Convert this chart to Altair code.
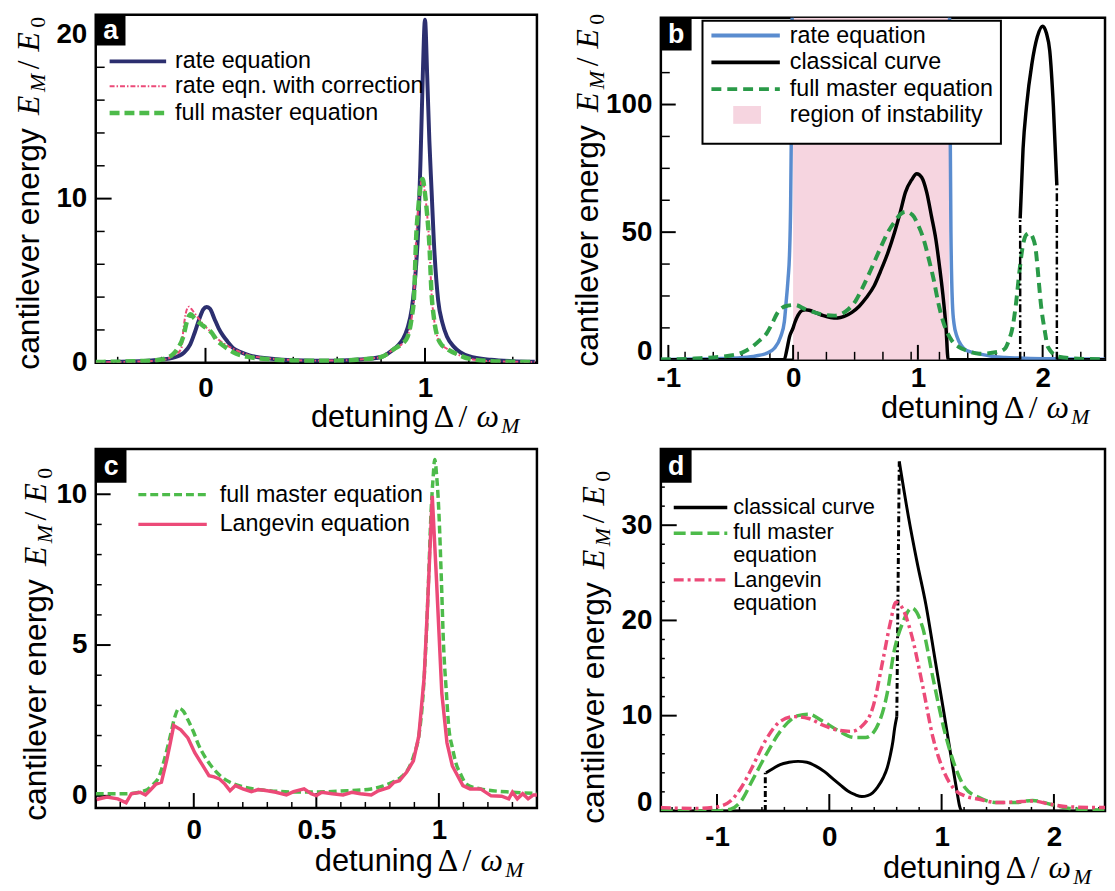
import altair as alt
import pandas as pd

# ---------------- panel a ----------------
a_rate_x = [-0.5, -0.3, -0.2, -0.15, -0.1, -0.07, -0.05, -0.03, -0.01, 0.005, 0.02, 0.04, 0.06, 0.08, 0.1,
            0.13, 0.16, 0.2, 0.3, 0.4, 0.5, 0.6, 0.7, 0.8, 0.85, 0.88, 0.9, 0.92, 0.94, 0.96, 0.97, 0.98,
            0.99, 1.0, 1.01, 1.02, 1.03, 1.04, 1.06, 1.08, 1.1, 1.13, 1.16, 1.2, 1.3, 1.4, 1.5]
a_rate_y = [0.05, 0.1, 0.2, 0.3, 0.6, 1.1, 1.8, 2.6, 3.25, 3.4, 3.3, 2.7, 2.1, 1.65, 1.3,
            0.85, 0.65, 0.45, 0.25, 0.15, 0.12, 0.13, 0.2, 0.35, 0.75, 1.1, 1.45, 2.1, 3.3, 6.0, 8.3, 12.5,
            17.5, 20.9, 17.5, 13.5, 10.5, 7.5, 3.8, 2.4, 1.6, 1.0, 0.65, 0.4, 0.18, 0.1, 0.07]
a_corr_x = [-0.5, -0.3, -0.2, -0.15, -0.11, -0.1, -0.09, -0.08, -0.075, -0.06, -0.04, -0.02, 0.0, 0.03, 0.06,
            0.1, 0.15, 0.2, 0.3, 0.4, 0.5, 0.6, 0.7, 0.8, 0.86, 0.9, 0.92, 0.94, 0.95, 0.96, 0.97, 0.98,
            0.989, 1.0, 1.01, 1.02, 1.03, 1.04, 1.055, 1.07, 1.1, 1.15, 1.2, 1.3, 1.4, 1.5]
a_corr_y = [0.03, 0.08, 0.15, 0.4, 0.85, 2.1, 3.0, 3.38, 3.42, 3.2, 2.85, 2.5, 2.2, 1.8, 1.4,
            1.05, 0.7, 0.45, 0.25, 0.16, 0.13, 0.14, 0.2, 0.35, 0.85, 1.2, 1.55, 2.8, 4.0, 7.7, 9.5, 10.8,
            11.2, 10.3, 9.0, 7.2, 4.2, 2.8, 1.65, 1.2, 0.85, 0.5, 0.25, 0.1, 0.06, 0.05]
a_master_x = [-0.5, -0.3, -0.2, -0.18, -0.15, -0.13, -0.1, -0.085, -0.068, -0.05, -0.02, 0.0, 0.03, 0.05, 0.08,
              0.1, 0.14, 0.2, 0.3, 0.4, 0.5, 0.6, 0.7, 0.8, 0.86, 0.9, 0.92, 0.94, 0.95, 0.96, 0.97, 0.98,
              0.989, 1.0, 1.01, 1.02, 1.03, 1.04, 1.055, 1.07, 1.1, 1.15, 1.2, 1.3, 1.4, 1.5]
a_master_y = [0.05, 0.1, 0.2, 0.28, 0.5, 0.8, 1.65, 2.5, 2.96, 2.7, 2.35, 2.15, 1.8, 1.4, 1.05,
              0.85, 0.55, 0.35, 0.2, 0.14, 0.12, 0.13, 0.2, 0.35, 0.85, 1.2, 1.55, 2.8, 4.0, 7.7, 9.5, 10.8,
              11.2, 10.3, 9.0, 7.2, 4.2, 2.8, 1.65, 1.2, 0.85, 0.5, 0.25, 0.1, 0.06, 0.05]
a_xlabels = [0, 1]
a_ylabels = [0, 10, 20]
a_xminor = [-0.4, -0.2, 0.2, 0.4, 0.6, 0.8, 1.2, 1.4]
a_yminor = [2, 4, 6, 8, 12, 14, 16, 18]
a_legend = ["rate equation", "rate eqn. with correction", "full master equation"]

# ---------------- panel b ----------------
b_region_start = [0.0]
b_region_end = [1.25]
b_rate_l_x = [-1.06, -0.9, -0.79, -0.6, -0.5, -0.4, -0.3, -0.214, -0.15, -0.1, -0.07, -0.057, -0.04,
              -0.029, -0.02, -0.012, -0.006]
b_rate_l_y = [0.15, 0.2, 0.3, 0.45, 0.6, 0.9, 1.5, 2.5, 4.5, 9, 15, 22, 32, 41, 60, 100, 150]
b_rate_r_x = [1.252, 1.258, 1.265, 1.277, 1.29, 1.314, 1.35, 1.386, 1.45, 1.5, 1.6, 1.7, 1.8, 1.9, 2.0,
              2.1, 2.3, 2.5]
b_rate_r_y = [150, 100, 50, 22, 14, 9, 5.5, 3.7, 2.8, 2.2, 1.3, 0.9, 0.7, 0.55, 0.45, 0.4, 0.3, 0.25]
b_class_x = [-1.06, -0.071, -0.05, -0.029, 0.0, 0.014, 0.04, 0.071, 0.1, 0.129, 0.18, 0.243, 0.3, 0.357,
             0.41, 0.471, 0.53, 0.586, 0.65, 0.7, 0.76, 0.814, 0.86, 0.9, 0.95, 0.991, 1.03, 1.071, 1.11,
             1.143, 1.175, 1.2, 1.225, 1.243, 1.82]
b_class_y = [0, 0, 4, 9, 12.5, 14.6, 17.5, 19.3, 19.6, 19.4, 18.5, 17.3, 16.6, 16.4,
             17.0, 18.6, 21, 24.3, 29, 34.6, 42, 50.1, 58, 65.6, 70.5, 72.9, 71.5, 65.6, 56,
             47.5, 36, 25.7, 13, 0, 0]
b_class2_x = [1.82, 1.843, 1.871, 1.914, 1.957, 2.0, 2.03, 2.057, 2.086, 2.114]
b_class2_y = [55.4, 82.6, 99.4, 116, 126.5, 130.7, 128, 121, 99.4, 68.3]
b_class3_x = [2.114, 2.5]
b_class3_y = [0, 0]
b_unst_x = [1.82, 1.82, 2.114, 2.114]
b_unst_y = [0, 55.4, 0, 68.3]
b_unst_seg = [1, 1, 2, 2]
b_master_x = [-1.06, -0.79, -0.5, -0.4, -0.33, -0.27, -0.214, -0.17, -0.13, -0.09, -0.043, 0.014, 0.1,
              0.214, 0.33, 0.443, 0.5, 0.557, 0.63, 0.7, 0.76, 0.814, 0.86, 0.9, 0.957, 1.0, 1.043, 1.09,
              1.129, 1.165, 1.2, 1.271, 1.33, 1.386, 1.5, 1.643, 1.7, 1.729, 1.76, 1.786, 1.815, 1.843,
              1.87, 1.894, 1.92, 1.943, 1.965, 1.986, 2.015, 2.043, 2.129, 2.357, 2.5]
b_master_y = [0.1, 0.5, 1.7, 3, 5, 7.5, 10.2, 14, 18, 20.3, 21.2, 21.5, 19.8,
              18, 17.3, 19.8, 23, 28.3, 36, 43.8, 50, 54.1, 57, 58, 56.7, 53, 47.7, 39,
              30.9, 22, 15.4, 7.6, 5, 3.7, 2.4, 3.1, 4.5, 7.6, 13, 21.8, 35, 45.1,
              49, 49.6, 48, 43.8, 33, 21.8, 12, 5, 1.2, 0.3, 0.2]
b_xlabels = [-1, 0, 1, 2]
b_ylabels = [0, 50, 100]
b_xminor = [-0.866, -0.64, -0.41, -0.186, 0.04, 0.267, 0.493, 0.72, 0.946, 1.173, 1.4, 1.626, 1.853,
            2.08, 2.306]
b_yminor = [12.5, 25, 37.5, 62.5, 75, 87.5, 112.5, 125]
b_legend = ["rate equation", "classical curve", "full master equation", "region of instability"]

# ---------------- panel c ----------------
c_master_x = [-0.4, -0.28, -0.2, -0.17, -0.14, -0.12, -0.096, -0.078, -0.06, -0.042, -0.024, 0.0, 0.019,
              0.045, 0.076, 0.11, 0.148, 0.2, 0.3, 0.4, 0.5, 0.6, 0.724, 0.77, 0.81, 0.85, 0.882, 0.9,
              0.918, 0.935, 0.947, 0.958, 0.968, 0.976, 0.983, 0.991, 1.0, 1.01, 1.019, 1.03, 1.04,
              1.055, 1.069, 1.09, 1.112, 1.17, 1.3, 1.4]
c_master_y = [0.07, 0.07, 0.17, 0.35, 0.67, 1.2, 1.98, 2.6, 2.9, 2.8, 2.52, 2.1, 1.7,
              1.3, 0.94, 0.65, 0.45, 0.3, 0.18, 0.13, 0.13, 0.16, 0.23, 0.32, 0.45, 0.65, 1.0, 1.4,
              1.98, 3.3, 5.0, 7.2, 9.4, 10.5, 11.15, 10.6, 9.4, 7.2, 5.0, 3.5, 2.3,
              1.6, 1.1, 0.7, 0.39, 0.23, 0.12, 0.08]
c_lang_x = [-0.396, -0.355, -0.31, -0.276, -0.255, -0.219, -0.197, -0.18, -0.154, -0.132, -0.11, -0.096,
            -0.082, -0.053, -0.024, 0.004, 0.033, 0.062, 0.083, 0.105, 0.127, 0.148, 0.17, 0.2, 0.235,
            0.263, 0.3, 0.335, 0.378, 0.407, 0.45, 0.479, 0.5, 0.522, 0.565, 0.609, 0.645, 0.68, 0.724,
            0.753, 0.796, 0.817, 0.839, 0.868, 0.896, 0.918, 0.94, 0.954, 0.973, 0.99, 1.012, 1.033,
            1.055, 1.098, 1.127, 1.17, 1.213, 1.256, 1.285, 1.3, 1.32, 1.342, 1.364, 1.386, 1.4]
c_lang_y = [-0.12, -0.04, -0.1, -0.23, 0.07, 0.12, 0.03, 0.17, 0.39, 0.45, 1.2, 1.75,
            2.33, 2.19, 1.92, 1.43, 1.05, 0.67, 0.63, 0.56, 0.39, 0.17, 0.34, 0.23, 0.14,
            0.21, 0.17, 0.12, 0.03, 0.14, 0.23, 0.07, 0.01, 0.12, 0.07, 0.03, 0.12, 0.07, 0.03,
            0.17, 0.28, 0.45, 0.5, 0.78, 1.16, 1.98, 3.94, 6.34, 9.95, 7.2, 3.4, 1.76,
            0.99, 0.34, 0.23, 0.23, 0.0, -0.01, -0.1, 0.12, -0.1, 0.07, -0.1, 0.03, 0.03]
c_xlabels = [0, 0.5, 1]
c_ylabels = [0, 5, 10]
c_xminor = [-0.3, -0.2, -0.1, 0.1, 0.2, 0.3, 0.4, 0.6, 0.7, 0.8, 0.9, 1.1, 1.2, 1.3]
c_yminor = [1, 2, 3, 4, 6, 7, 8, 9, 11]
c_legend = ["full master equation", "Langevin equation"]

# ---------------- panel d ----------------
d_class0_x = [-1.5, -0.57]
d_class0_y = [0, 0]
d_jump_x = [-0.57, -0.57, 0.601, 0.623]
d_jump_y = [0, 4.0, 9.9, 36.7]
d_jump_seg = [1, 1, 2, 2]
d_class1_x = [-0.563, -0.5, -0.437, -0.36, -0.278, -0.2, -0.12, -0.04, 0.038, 0.1, 0.165, 0.23, 0.29,
              0.34, 0.386, 0.43, 0.48, 0.515, 0.544, 0.565, 0.582, 0.601]
d_class1_y = [4.0, 4.45, 4.87, 5.1, 5.2, 5.1, 4.7, 4.1, 3.3, 2.7, 2.09, 1.7, 1.5,
              1.6, 1.9, 2.5, 3.48, 4.5, 5.9, 7.2, 8.7, 9.9]
d_class2_x = [0.623, 0.703, 0.78, 0.861, 0.94, 1.019, 1.08, 1.114, 1.14, 1.16, 1.18, 2.5]
d_class2_y = [36.7, 31.0, 26.2, 21.6, 16.0, 10.4, 6.0, 3.6, 1.8, 0.5, 0, 0]
d_master_x = [-1.5, -1.0, -0.88, -0.785, -0.69, -0.563, -0.437, -0.278, -0.184, -0.057, 0.07, 0.228,
              0.323, 0.418, 0.513, 0.576, 0.655, 0.734, 0.83, 0.924, 1.019, 1.114, 1.209, 1.335, 1.494,
              1.652, 1.81, 1.968, 2.127, 2.3, 2.5]
d_master_y = [0.0, 0.0, 0.17, 1.04, 3.1, 5.9, 8.35, 10.0, 10.15, 9.4, 8.5, 7.7,
              7.7, 8.7, 12.2, 16.7, 19.8, 21.3, 19.3, 13.9, 8.7, 4.87, 2.43, 1.39, 0.87,
              0.87, 1.1, 0.7, 0.28, 0.15, 0.1]
d_lang_x = [-1.5, -1.2, -1.0, -0.88, -0.785, -0.69, -0.563, -0.437, -0.31, -0.184, -0.057, 0.07, 0.196,
            0.29, 0.386, 0.48, 0.544, 0.592, 0.655, 0.734, 0.83, 0.924, 1.019, 1.114, 1.209, 1.335,
            1.494, 1.652, 1.81, 1.968, 2.127, 2.44, 2.5]
d_lang_y = [0.35, 0.25, 0.42, 1.04, 2.43, 4.5, 7.5, 9.4, 9.9, 9.7, 9.0, 8.5, 8.35,
            8.9, 10.8, 16.0, 19.8, 21.9, 21.2, 18.4, 13.2, 7.65, 4.17, 2.26, 1.57, 1.22,
            0.87, 0.94, 1.04, 0.7, 0.42, 0.35, 0.35]
d_xlabels = [-1, 0, 1, 2]
d_ylabels = [0, 10, 20, 30]
d_xminor = [-1.4, -1.2, -0.8, -0.6, -0.4, -0.2, 0.2, 0.4, 0.6, 0.8, 1.2, 1.4, 1.6, 1.8, 2.2, 2.4]
d_yminor = [2, 4, 6, 8, 12, 14, 16, 18, 22, 24, 26, 28, 32, 34, 36]
d_legend = ["classical curve", "full master", "equation", "Langevin", "equation"]

# ---------------- styling / helpers ----------------
SANS = "Liberation Sans"
SERIF = "Liberation Serif"
ONE = alt.Data(values=[{}])
NAVY = "#2c2f6f"
PINK = "#ec4a78"
GREEN = "#4dbb4a"
DGREEN = "#2a9a48"
BLUE = "#5a8ccf"
REGION = "#f6d5e0"


def pts(xs, ys, seg=None):
    d = {"x": xs, "y": ys}
    if seg is not None:
        d["seg"] = seg
    return pd.DataFrame(d)


def make_axis(values, pad, flush=False):
    kw = dict(values=values, labelExpr="'' + datum.value", ticks=False, tickSize=0, domain=False,
              grid=False, labelPadding=pad, labelFont=SANS, labelFontSize=28, labelFontWeight="bold",
              labelColor="black", labelOverlap=False, labelFlush=flush, title=None)
    if flush:
        kw["labelFlushOffset"] = 6
    return alt.Axis(**kw)


class Panel:
    def __init__(self, xdom, ydom, xlab, ylab, xpad, ypad, w, h, yflush=False):
        self.X = alt.X("x:Q", scale=alt.Scale(domain=xdom, nice=False, zero=False),
                       axis=make_axis(xlab, xpad), title=None)
        self.Y = alt.Y("y:Q", scale=alt.Scale(domain=ydom, nice=False, zero=False),
                       axis=make_axis(ylab, ypad, yflush), title=None)
        self.w, self.h = w, h
        self.layers = []

    def line(self, xs, ys, color, width, dash=None, interp="monotone", seg=None):
        kw = dict(color=color, strokeWidth=width, clip=True, interpolate=interp)
        if dash:
            kw["strokeDash"] = dash
        ch = alt.Chart(pts(xs, ys, seg)).mark_line(**kw)
        if seg is not None:
            ch = ch.encode(x=self.X, y=self.Y, detail="seg:N")
        else:
            ch = ch.encode(x=self.X, y=self.Y)
        self.layers.append(ch)

    def region(self, starts, ends, color):
        d = pd.DataFrame({"x": starts, "x2": ends})
        self.layers.append(alt.Chart(d).mark_rect(color=color, clip=True).encode(
            x=self.X, x2="x2:Q", y=alt.value(0), y2=alt.value(self.h)))

    def xticks(self, vals, length, width):
        self.layers.append(alt.Chart(pd.DataFrame({"x": vals})).mark_rule(
            color="black", strokeWidth=width).encode(x=self.X, y=alt.value(self.h),
                                                     y2=alt.value(self.h - length)))

    def yticks(self, vals, length, width):
        self.layers.append(alt.Chart(pd.DataFrame({"y": vals})).mark_rule(
            color="black", strokeWidth=width).encode(y=self.Y, x=alt.value(0), x2=alt.value(length)))

    def text(self, s, x, y, size, font=SANS, style="normal", weight="normal", color="black",
             angle=0, align="left", baseline="alphabetic"):
        self.layers.append(alt.Chart(ONE).mark_text(
            text=s, font=font, fontSize=size, fontStyle=style, fontWeight=weight, color=color,
            angle=angle, align=align, baseline=baseline).encode(x=alt.value(x), y=alt.value(y)))

    def seg(self, x1, x2, y, color, width, dash=None):
        kw = dict(color=color, strokeWidth=width)
        if dash:
            kw["strokeDash"] = dash
        self.layers.append(alt.Chart(ONE).mark_rule(**kw).encode(
            x=alt.value(x1), x2=alt.value(x2), y=alt.value(y)))

    def box(self, x1, x2, y1, y2, fill, stroke=None, sw=0):
        kw = dict(fill=fill, strokeWidth=sw)
        if stroke:
            kw["stroke"] = stroke
        self.layers.append(alt.Chart(ONE).mark_rect(**kw).encode(
            x=alt.value(x1), x2=alt.value(x2), y=alt.value(y1), y2=alt.value(y2)))

    def label(self, letter, w, h):
        self.box(0, w, 0, h, "black")
        self.text(letter, w / 2, h / 2 + 1, 27, weight="bold", color="white", align="center",
                  baseline="middle")

    def ytitle(self, bx, y0):
        self.text("cantilever energy", bx, y0, 32, angle=270)
        self.text("E", bx, y0 - 257, 32, SERIF, "italic", angle=270)
        self.text("M", bx + 6, y0 - 280, 22, SERIF, "italic", angle=270)
        self.text("/", bx, y0 - 303, 32, SERIF, angle=270)
        self.text("E", bx, y0 - 321, 32, SERIF, "italic", angle=270)
        self.text("0", bx + 6, y0 - 345, 22, SERIF, angle=270)

    def xtitle(self, x0, by):
        self.text("detuning", x0, by, 31)
        self.text("Δ", x0 + 124, by, 32, SERIF)
        self.text("/", x0 + 149, by, 32, SERIF)
        self.text("ω", x0 + 167, by, 32, SERIF, "italic")
        self.text("M", x0 + 192, by + 6, 22, SERIF, "italic")

    def chart(self):
        return alt.layer(*self.layers).properties(width=self.w, height=self.h)


# ---------------- panel a ----------------
pa = Panel([-0.5, 1.51], [0, 21.2], a_xlabels, a_ylabels, 12, 9, 445, 351)
pa.xticks(a_xminor, 6, 1.5)
pa.xticks(a_xlabels, 15, 2)
pa.yticks(a_yminor, 9, 1.5)
pa.yticks(a_ylabels, 16, 2)
pa.line(a_rate_x, a_rate_y, NAVY, 4)
pa.line(a_corr_x, a_corr_y, PINK, 2, dash=[5, 2, 1.5, 2])
pa.line(a_master_x, a_master_y, GREEN, 4.5, dash=[10, 5])
pa.seg(14, 71, 47, NAVY, 4)
pa.seg(14, 71, 72, PINK, 2, dash=[5, 2, 1.5, 2])
pa.seg(14, 71, 99, GREEN, 4.5, dash=[10, 5])
for lbl, yy in zip(a_legend, [47, 72, 99]):
    pa.text(lbl, 80, yy, 23.5, baseline="middle")
pa.label("a", 30, 31)
pa.ytitle(-57, 358)
pa.xtitle(217, 416)

# ---------------- panel b ----------------
pb = Panel([-1.06, 2.5], [0, 134], b_xlabels, b_ylabels, 5, 9, 448, 345, yflush=True)
pb.region(b_region_start, b_region_end, REGION)
pb.xticks(b_xminor, 8, 1.5)
pb.xticks(b_xlabels, 15, 2)
pb.yticks(b_yminor, 9, 1.5)
pb.yticks(b_ylabels, 15, 2)
pb.line(b_rate_l_x, b_rate_l_y, BLUE, 3.5)
pb.line(b_rate_r_x, b_rate_r_y, BLUE, 3.5)
pb.line(b_class_x, b_class_y, "black", 3.5)
pb.line(b_class2_x, b_class2_y, "black", 3.5)
pb.line(b_class3_x, b_class3_y, "black", 3.5, interp="linear")
pb.line(b_master_x, b_master_y, DGREEN, 4, dash=[10, 6])
pb.line(b_unst_x, b_unst_y, "black", 2.5, dash=[8, 3, 2, 3], interp="linear", seg=b_unst_seg)
pb.box(42, 343, 3, 127, "white", "black", 2)
pb.seg(51, 120, 18, BLUE, 4)
pb.seg(51, 120, 45, "black", 4)
pb.seg(51, 120, 72, DGREEN, 4, dash=[10, 6])
pb.box(73, 101, 89, 107, REGION)
for lbl, yy in zip(b_legend, [18, 45, 72, 98]):
    pb.text(lbl, 130, yy, 23.5, baseline="middle")
pb.label("b", 31, 33)
pb.ytitle(-63, 352)
pb.xtitle(222, 404)

# ---------------- panel c ----------------
pc = Panel([-0.4, 1.4], [-0.4, 11.5], c_xlabels, c_ylabels, 9, 9, 445, 362)
pc.xticks(c_xminor, 6, 1.5)
pc.xticks(c_xlabels, 15, 2)
pc.yticks(c_yminor, 6, 1.5)
pc.yticks(c_ylabels, 15, 2)
pc.line(c_master_x, c_master_y, GREEN, 3.5, dash=[8, 4])
pc.line(c_lang_x, c_lang_y, PINK, 3.5, interp="linear")
pc.seg(43, 112, 46, GREEN, 3.5, dash=[8, 4])
pc.seg(43, 112, 76, PINK, 3.5)
for lbl, yy in zip(c_legend, [46, 76]):
    pc.text(lbl, 125, yy, 23.5, baseline="middle")
pc.label("c", 31, 34)
pc.ytitle(-50, 375)
pc.xtitle(221, 426)

# ---------------- panel d ----------------
pd_ = Panel([-1.5, 2.455], [0, 38], d_xlabels, d_ylabels, 13, 9, 448, 365, yflush=True)
pd_.xticks(d_xminor, 4, 1.5)
pd_.xticks(d_xlabels, 17, 2)
pd_.yticks(d_yminor, 4, 1.5)
pd_.yticks(d_ylabels, 16, 2)
pd_.line(d_class0_x, d_class0_y, "black", 3, interp="linear")
pd_.line(d_class1_x, d_class1_y, "black", 3)
pd_.line(d_class2_x, d_class2_y, "black", 3)
pd_.line(d_jump_x, d_jump_y, "black", 3, dash=[6, 3, 2, 3], interp="linear", seg=d_jump_seg)
pd_.line(d_master_x, d_master_y, GREEN, 3.5, dash=[12, 5])
pd_.line(d_lang_x, d_lang_y, PINK, 3.5, dash=[10, 4, 3, 4])
pd_.seg(13, 67, 59, "black", 3.5)
pd_.seg(13, 67, 85, GREEN, 3.5, dash=[12, 5])
pd_.seg(13, 67, 132, PINK, 3.5, dash=[10, 4, 3, 4])
for lbl, yy in zip(d_legend, [59, 84, 107, 132, 155]):
    pd_.text(lbl, 73, yy, 22, baseline="middle")
pd_.label("d", 31, 34)
pd_.ytitle(-57, 378)
pd_.xtitle(224, 433)

chart = alt.concat(
    pa.chart(), pb.chart(), pc.chart(), pd_.chart(),
    columns=2, spacing={"row": 87, "column": 125}, bounds="flush", center=True,
).properties(
    padding={"left": 3.5, "top": 0, "right": 0, "bottom": 0}
).configure_view(
    stroke="black", strokeWidth=2.5
).configure_axis(
    grid=False
)

chart.save("out.html", embed_options={"renderer": "svg", "actions": False})
